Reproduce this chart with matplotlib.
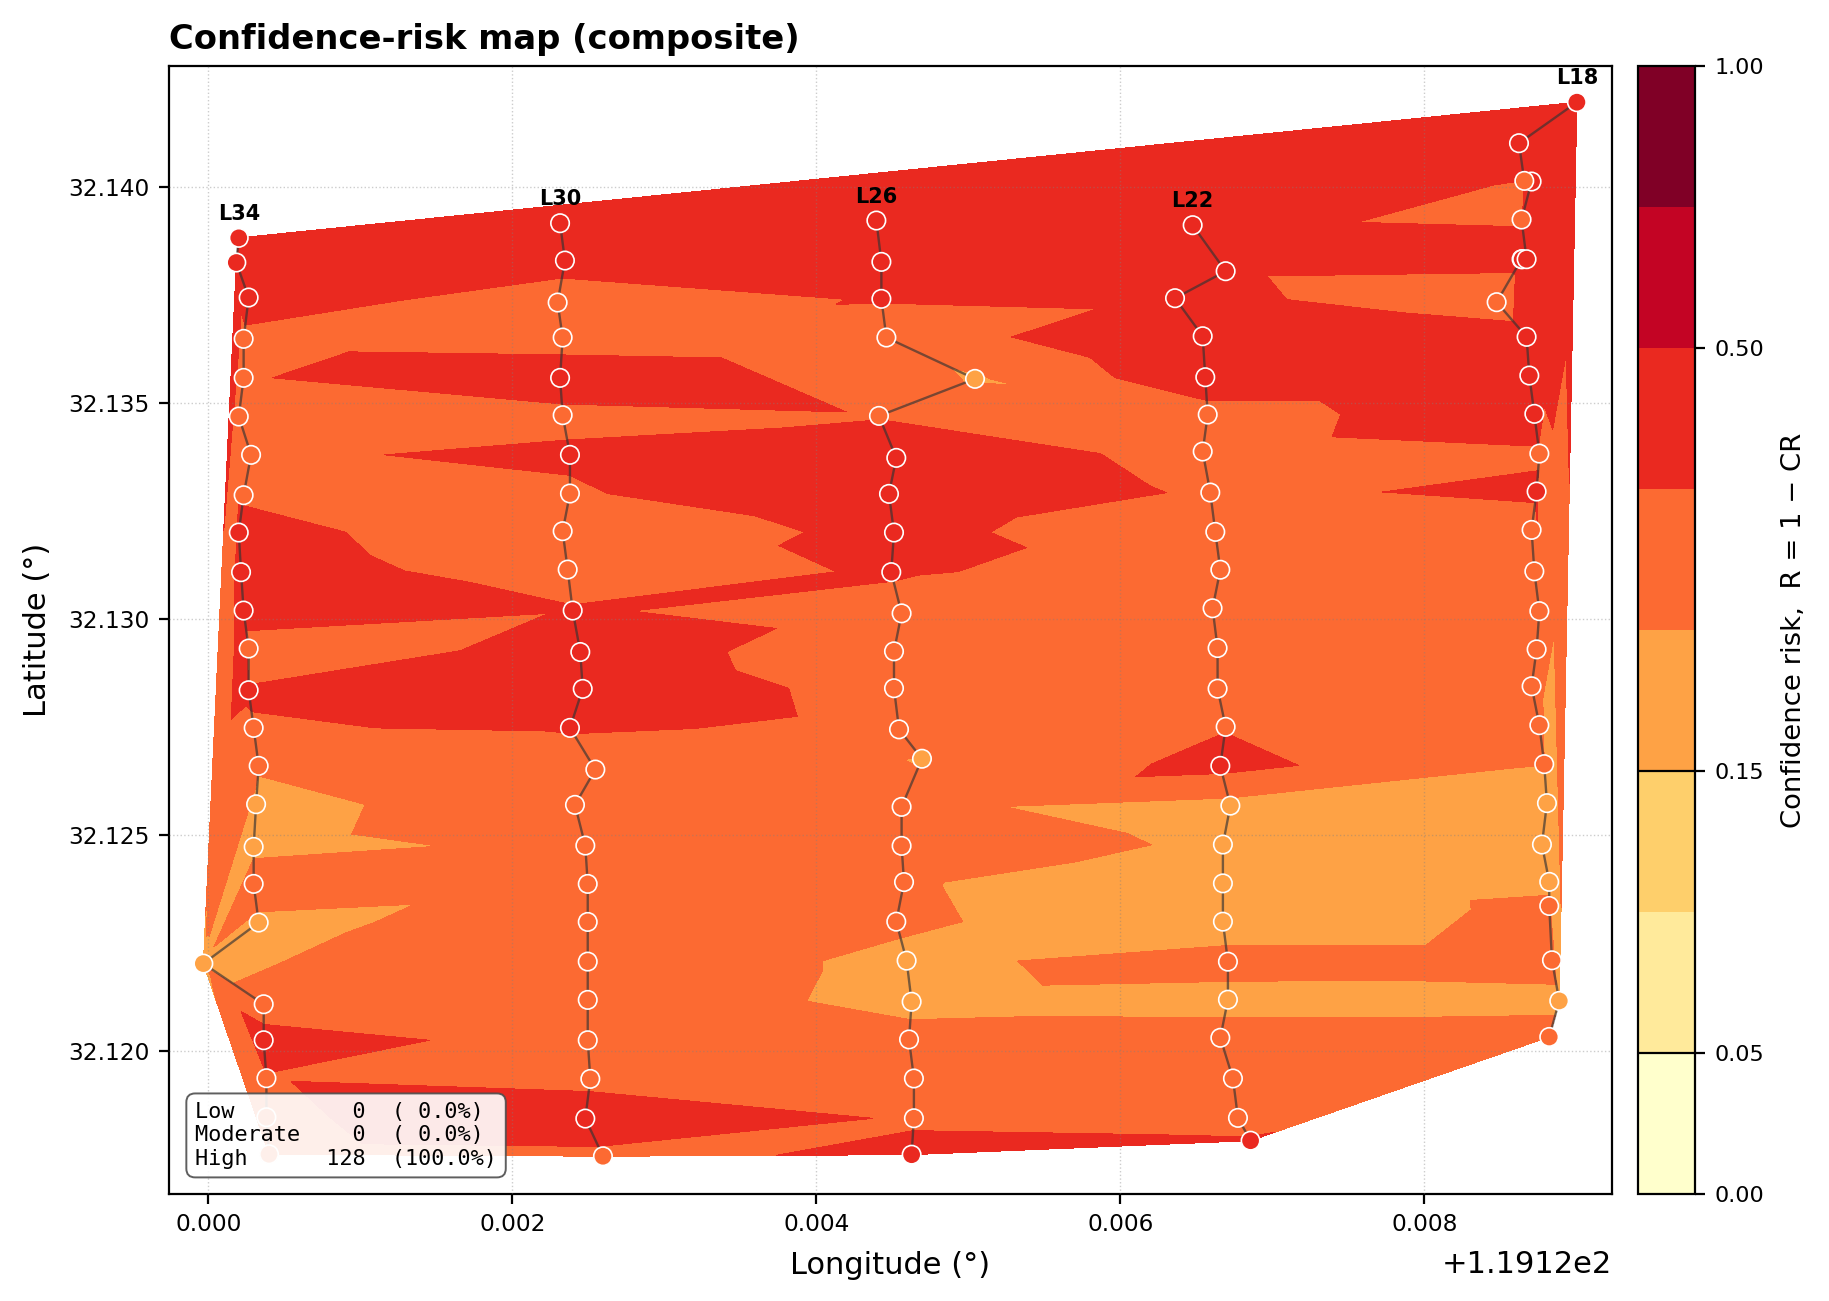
import matplotlib
matplotlib.use("Agg")
import matplotlib.pyplot as plt
from matplotlib.colors import BoundaryNorm
import numpy as np

# survey lines, listed north to south. lon is in 1e-3 deg east of 119.12
lon_l34 = [0.200, 0.184, 0.265, 0.232, 0.232, 0.200, 0.281, 0.232, 0.200, 0.215, 0.232, 0.265, 0.265,
           0.298, 0.331, 0.314, 0.298, 0.298, 0.331, -0.033, 0.364, 0.364, 0.382, 0.382, 0.399]
lat_l34 = [32.138812, 32.138241, 32.137431, 32.136474, 32.135571, 32.134676, 32.133789, 32.132855,
           32.131991, 32.131073, 32.130185, 32.129306, 32.128341, 32.127469, 32.126590, 32.125702,
           32.124715, 32.123858, 32.122963, 32.122014, 32.121072, 32.120239, 32.119360, 32.118457, 32.117600]
r_l34 = [0.42, 0.42, 0.42, 0.315, 0.343, 0.31, 0.337, 0.344, 0.366, 0.372, 0.40, 0.306, 0.3566,
         0.345, 0.259, 0.224, 0.228, 0.297, 0.232, 0.2375, 0.263, 0.418, 0.34, 0.32, 0.30]

lon_l30 = [2.314, 2.346, 2.298, 2.331, 2.314, 2.331, 2.379, 2.379, 2.331, 2.364, 2.397, 2.447, 2.463,
           2.379, 2.546, 2.412, 2.480, 2.496, 2.496, 2.496, 2.496, 2.496, 2.513, 2.480, 2.596]
lat_l30 = [32.139151, 32.138287, 32.137315, 32.136505, 32.135571, 32.134707, 32.133789, 32.132894,
           32.132022, 32.131134, 32.130185, 32.129225, 32.128372, 32.127469, 32.126505, 32.125687,
           32.124745, 32.123858, 32.122978, 32.122060, 32.121173, 32.120239, 32.119344, 32.118426, 32.117554]
r_l30 = [0.42, 0.40, 0.28, 0.297, 0.42, 0.32, 0.368, 0.334, 0.3174, 0.328, 0.3535, 0.375, 0.3774,
         0.358, 0.30, 0.30, 0.2675, 0.27, 0.283, 0.30, 0.30, 0.285, 0.294, 0.47, 0.308]

lon_l26 = [4.395, 4.428, 4.428, 4.461, 5.044, 4.412, 4.526, 4.478, 4.511, 4.493, 4.561, 4.511, 4.511,
           4.544, 4.695, 4.561, 4.561, 4.577, 4.526, 4.594, 4.627, 4.610, 4.642, 4.642, 4.627]
lat_l26 = [32.139213, 32.138256, 32.137400, 32.136505, 32.135548, 32.134691, 32.133719, 32.132886,
           32.131991, 32.131074, 32.130120, 32.129241, 32.128387, 32.127435, 32.126755, 32.125641,
           32.124738, 32.123900, 32.122984, 32.122081, 32.121130, 32.120257, 32.119354, 32.118433, 32.117590]
r_l26 = [0.42, 0.40, 0.3588, 0.2785, 0.239, 0.342, 0.43, 0.47, 0.362, 0.3545, 0.334, 0.3215, 0.336,
         0.337, 0.247, 0.264, 0.271, 0.257, 0.263, 0.232, 0.226, 0.2765, 0.29, 0.333, 0.383]

lon_l22 = [6.476, 6.693, 6.360, 6.542, 6.559, 6.575, 6.542, 6.592, 6.625, 6.658, 6.607, 6.640, 6.640,
           6.693, 6.658, 6.724, 6.675, 6.675, 6.675, 6.708, 6.708, 6.658, 6.741, 6.774, 6.857]
lat_l22 = [32.139105, 32.138040, 32.137415, 32.136535, 32.135586, 32.134722, 32.133866, 32.132917,
           32.132006, 32.131130, 32.130238, 32.129317, 32.128377, 32.127493, 32.126590, 32.125669,
           32.124769, 32.123870, 32.122984, 32.122058, 32.121178, 32.120296, 32.119354, 32.118442, 32.117914]
r_l22 = [0.355, 0.359, 0.3766, 0.459, 0.421, 0.307, 0.31, 0.331, 0.322, 0.3324, 0.30, 0.295, 0.29,
         0.3445, 0.381, 0.219, 0.244, 0.20, 0.199, 0.284, 0.2186, 0.285, 0.29, 0.32, 0.356]

lon_l18 = [9.004, 8.623, 8.658, 8.706, 8.640, 8.673, 8.644, 8.640, 8.476, 8.673, 8.691, 8.724, 8.757, 8.739,
           8.706, 8.724, 8.757, 8.739, 8.706, 8.757, 8.789, 8.807, 8.774, 8.822, 8.822, 8.840, 8.888, 8.822]
lat_l18 = [32.141952, 32.141003, 32.140131, 32.140116, 32.139236, 32.138318, 32.138318, 32.138318, 32.137323,
           32.136520, 32.135625, 32.134738, 32.133819, 32.132940, 32.132052, 32.131093, 32.130171, 32.129287,
           32.128433, 32.127532, 32.126630, 32.125727, 32.124769, 32.123905, 32.123347, 32.122090, 32.121150, 32.120315]
r_l18 = [0.44, 0.40, 0.3495, 0.40, 0.345, 0.38, 0.375, 0.3725, 0.30, 0.389, 0.43, 0.4125, 0.336, 0.367,
         0.308, 0.30, 0.30, 0.29, 0.275, 0.265, 0.2525, 0.19, 0.22, 0.23, 0.266, 0.2817, 0.228, 0.283]

line_names = ["L34", "L30", "L26", "L22", "L18"]
line_lons = [lon_l34, lon_l30, lon_l26, lon_l22, lon_l18]
line_lats = [lat_l34, lat_l30, lat_l26, lat_l22, lat_l18]
line_rs = [r_l34, r_l30, r_l26, r_l22, r_l18]

levels = [0, 0.05, 0.10, 0.15, 0.25, 0.35, 0.50, 0.75, 1.0]
cbar_ticks = [0, 0.05, 0.15, 0.50, 1.0]
class_names = ["Low", "Moderate", "High"]
class_counts = [0, 0, 128]
class_pcts = [0.0, 0.0, 100.0]

fig = plt.figure(figsize=(9.145, 6.505), dpi=200)
ax = fig.add_axes([169 / 1829, 1 - 1194 / 1301, (1612 - 169) / 1829, (1194 - 66) / 1301])
cax = fig.add_axes([1638 / 1829, 1 - 1194 / 1301, (1695 - 1638) / 1829, (1194 - 66) / 1301])

lon = 119.12 + 1e-3 * np.concatenate([np.array(v, dtype=float)[::-1] for v in line_lons])
lat = np.concatenate([np.array(v)[::-1] for v in line_lats])
risk = np.concatenate([np.array(v)[::-1] for v in line_rs])

norm = BoundaryNorm(levels, 256)
cf = ax.tricontourf(lon, lat, risk, levels=levels, cmap="YlOrRd", norm=norm, zorder=1)

for name, x, y in zip(line_names, line_lons, line_lats):
    x = 119.12 + 1e-3 * np.array(x)
    ax.plot(x, y, color="0.2", lw=0.85, alpha=0.65, zorder=3)
    ax.annotate(name, (x[0], y[0]), xytext=(0, 5), textcoords="offset points",
                ha="center", va="bottom", fontsize=7.5, fontweight="bold", zorder=6)

ax.scatter(lon, lat, c=risk, cmap="YlOrRd", norm=norm, s=44, edgecolors="white", linewidths=0.6, zorder=4)

ax.set_xlim(119.12 - 0.000259, 119.12 + 0.009235)
ax.set_ylim(32.11668, 32.14279)
ax.grid(True, ls=":", lw=0.5, color="gray", alpha=0.4)
ax.set_axisbelow(False)
ax.tick_params(labelsize=8.4)
ax.xaxis.OFFSETTEXTPAD = 5
ax.xaxis.get_offset_text().set_fontsize(11)
ax.set_xlabel("Longitude (°)", fontsize=11, labelpad=5.2)
ax.set_ylabel("Latitude (°)", fontsize=11, labelpad=6)
ax.set_title("Confidence-risk map (composite)", loc="left", fontsize=12.15, fontweight="bold", pad=6.3)

rows = [f"{n:<8}{c:>5d}  ({p:4.1f}%)" for n, c, p in zip(class_names, class_counts, class_pcts)]
ax.text(0.0181, 0.0225, "\n".join(rows), transform=ax.transAxes, family="DejaVu Sans Mono", fontsize=7.9,
        va="bottom", ha="left", zorder=7,
        bbox=dict(boxstyle="round,pad=0.4", fc="white", ec="0.3", alpha=0.9, lw=0.7))

cbar = fig.colorbar(cf, cax=cax, ticks=cbar_ticks, spacing="uniform", format="%.2f")
cbar.add_lines([0.05, 0.15], ["black", "black"], [0.8, 0.8])
cbar.ax.minorticks_off()
cbar.ax.tick_params(labelsize=8)
cbar.set_label("Confidence risk,  R = 1 − CR", fontsize=9.9, labelpad=6)

fig.savefig("out.png", dpi=200)
